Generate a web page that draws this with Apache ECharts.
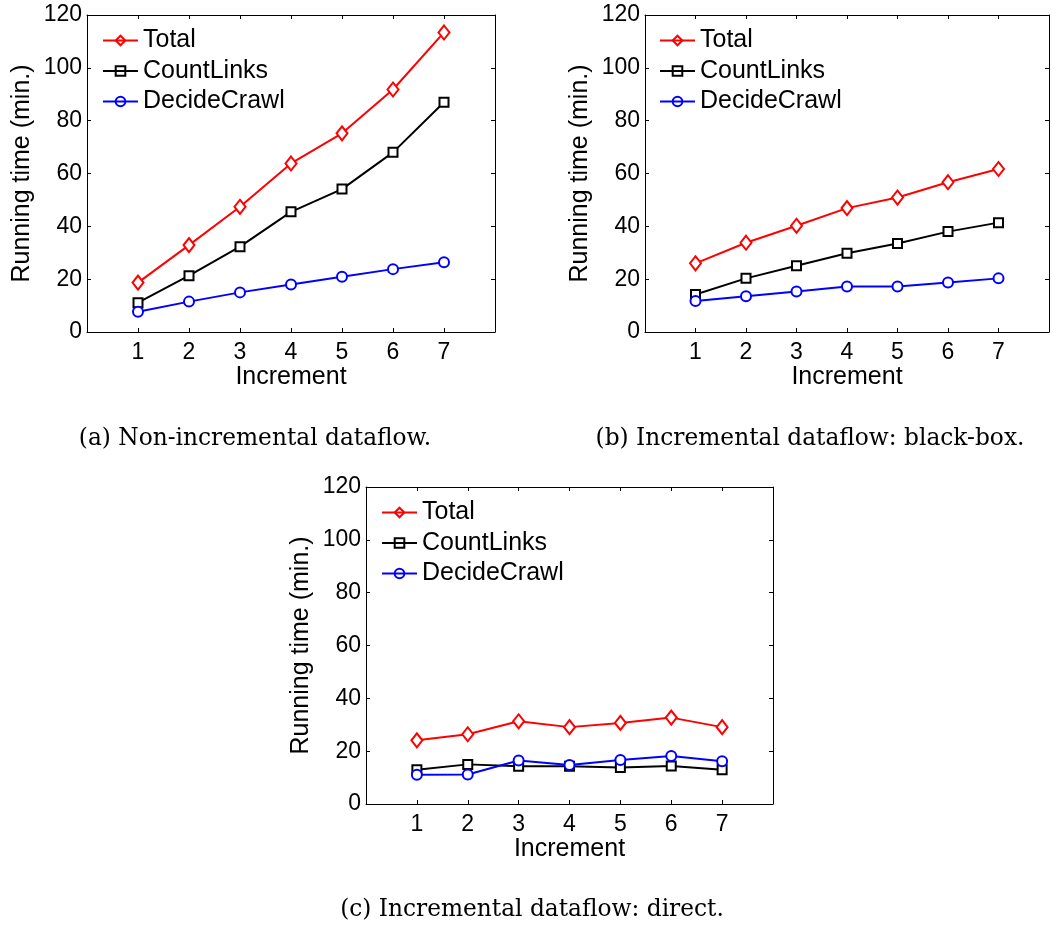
<!DOCTYPE html>
<html>
<head>
<meta charset="utf-8">
<script src="https://cdn.jsdelivr.net/npm/echarts@6/dist/echarts.min.js"></script>
<style>
html,body{margin:0;padding:0;background:#fff;}
#chart{width:1052px;height:928px;}
</style>
</head>
<body>
<div id="chart"></div>
<script>
// ---- data ----
var increments = [1, 2, 3, 4, 5, 6, 7];
var xTickLabels = ['1', '2', '3', '4', '5', '6', '7'];
var yTicks = [0, 20, 40, 60, 80, 100, 120];
var seriesNames = ['Total', 'CountLinks', 'DecideCrawl'];

var totalA  = [18.7, 32.9, 47.4, 63.8, 75.2, 91.8, 113.4];
var countA  = [11.1, 21.3, 32.3, 45.5, 54.1, 68.0, 87.0];
var decideA = [7.7, 11.5, 15.0, 18.0, 20.9, 23.8, 26.4];

var totalB  = [26.0, 33.8, 40.2, 46.9, 50.9, 56.7, 61.7];
var countB  = [14.2, 20.3, 25.1, 29.8, 33.5, 38.0, 41.4];
var decideB = [11.7, 13.5, 15.3, 17.2, 17.2, 18.7, 20.3];

var totalC  = [24.1, 26.4, 31.3, 29.1, 30.7, 32.7, 29.1];
var countC  = [13.0, 15.0, 14.3, 14.3, 13.8, 14.4, 13.0];
var decideC = [11.1, 11.2, 16.5, 14.8, 16.7, 18.2, 16.2];

var captions = ['(a) Non-incremental dataflow.', '(b) Incremental dataflow: black-box.', '(c) Incremental dataflow: direct.'];

// ---- layout / style ----
var SANS = 'Liberation Sans';
var SERIF = 'DejaVu Serif';
var grids = [
  {left: 87, top: 15, width: 408, height: 317},
  {left: 645, top: 15, width: 406, height: 317},
  {left: 366, top: 487, width: 407, height: 317}
];
var legendPos = [{left: 102, top: 28}, {left: 659, top: 28}, {left: 381, top: 500}];
var captionPos = [[255, 439], [810, 439], [532, 910]];
var styles = [
  {color: '#ff0000', symbol: 'diamond', size: [11, 14]},
  {color: '#000000', symbol: 'rect', size: 9},
  {color: '#0000ff', symbol: 'circle', size: 10}
];
var dataSets = [[totalA, countA, decideA], [totalB, countB, decideB], [totalC, countC, decideC]];

function pairs(vals) { return increments.map(function (x, i) { return [x, vals[i]]; }); }

var xAxes = [], yAxes = [], series = [], legends = [], graphics = [];
grids.forEach(function (g, gi) {
  var lineCol = '#000';
  xAxes.push({
    gridIndex: gi, type: 'value', min: 0, max: 8, interval: 1, position: 'bottom',
    name: 'Increment', nameLocation: 'middle', nameGap: 31,
    nameTextStyle: {fontFamily: SANS, fontSize: 25, color: '#000'},
    axisLine: {show: true, onZero: false, lineStyle: {color: lineCol, width: 1}},
    axisTick: {show: true, inside: true, length: 4, lineStyle: {color: lineCol}},
    axisLabel: {fontFamily: SANS, fontSize: 23, color: '#000', margin: 9,
      formatter: function (v) { var i = increments.indexOf(v); return i >= 0 ? xTickLabels[i] : ''; }},
    splitLine: {show: false}
  });
  xAxes.push({
    gridIndex: gi, type: 'value', min: 0, max: 8, interval: 1, position: 'top',
    axisLine: {show: true, onZero: false, lineStyle: {color: lineCol, width: 1}},
    axisTick: {show: true, inside: true, length: 4, lineStyle: {color: lineCol}},
    axisLabel: {show: false}, splitLine: {show: false}
  });
  yAxes.push({
    gridIndex: gi, type: 'value', min: yTicks[0], max: yTicks[yTicks.length - 1], interval: 20, position: 'left',
    name: 'Running time (min.)', nameLocation: 'middle', nameGap: 52,
    nameTextStyle: {fontFamily: SANS, fontSize: 25, color: '#000'},
    axisLine: {show: true, onZero: false, lineStyle: {color: lineCol, width: 1}},
    axisTick: {show: true, inside: true, length: 4, lineStyle: {color: lineCol}},
    axisLabel: {fontFamily: SANS, fontSize: 23, color: '#000', margin: 5},
    splitLine: {show: false}
  });
  yAxes.push({
    gridIndex: gi, type: 'value', min: yTicks[0], max: yTicks[yTicks.length - 1], interval: 20, position: 'right',
    axisLine: {show: true, onZero: false, lineStyle: {color: lineCol, width: 1}},
    axisTick: {show: true, inside: true, length: 4, lineStyle: {color: lineCol}},
    axisLabel: {show: false}, splitLine: {show: false}
  });
  dataSets[gi].forEach(function (vals, si) {
    var st = styles[si];
    series.push({
      name: seriesNames[si], type: 'line', xAxisIndex: gi * 2, yAxisIndex: gi * 2,
      data: pairs(vals), symbol: st.symbol, symbolSize: st.size, showSymbol: true,
      color: st.color,
      lineStyle: {color: st.color, width: 2},
      itemStyle: {color: '#fff', borderColor: st.color, borderWidth: 2},
      emphasis: {disabled: true}, animation: false, z: 2 + si
    });
  });
  legends.push({
    left: legendPos[gi].left, top: legendPos[gi].top, orient: 'vertical', padding: 0,
    itemWidth: 35, itemHeight: 12, itemGap: 5.5, selectedMode: false,
    data: seriesNames.map(function (n) { return {name: n}; }),
    itemStyle: {color: 'rgba(255,255,255,0)', borderWidth: 2},
    lineStyle: {width: 2},
    textStyle: {fontFamily: SANS, fontSize: 25, color: '#000', padding: [0, 0, 0, 0]}
  });
  graphics.push({
    type: 'text', x: captionPos[gi][0], y: captionPos[gi][1],
    style: {text: captions[gi], fontFamily: SERIF, fontSize: 23.3, fill: '#000', align: 'center', verticalAlign: 'middle'}
  });
});

var chart = echarts.init(document.getElementById('chart'), null, {renderer: 'canvas', width: 1052, height: 928});
chart.setOption({
  animation: false,
  backgroundColor: '#fff',
  grid: grids.map(function (g) { return Object.assign({containLabel: false}, g); }),
  xAxis: xAxes,
  yAxis: yAxes,
  legend: legends,
  series: series,
  graphic: graphics
});
</script>
</body>
</html>
